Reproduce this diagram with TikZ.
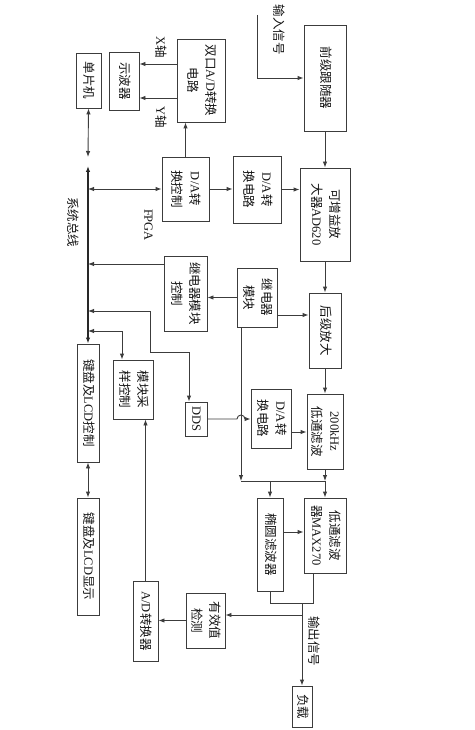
\documentclass[tikz,border=0pt]{standalone}
\usepackage{fontspec}
\usepackage{graphicx}
\setmainfont{Liberation Serif}
\newfontfamily\cjk{Noto Sans CJK SC}
\usetikzlibrary{arrows.meta}
\newcommand\la[1]{{\rmfamily #1}}
\newcommand\vt[1]{\rotatebox{-90}{\begin{tabular}{@{}c@{}}#1\end{tabular}}}
\renewcommand\arraystretch{1.2}
\definecolor{lc}{RGB}{60,60,60}
\definecolor{bc}{RGB}{40,40,40}
\definecolor{tc}{RGB}{20,20,20}
\begin{document}
\begin{tikzpicture}[x=1pt,y=-1pt,
  box/.style={draw=lc, line width=0.9pt, inner sep=0pt, text=tc, font=\cjk\fontsize{12.5}{15}\selectfont},
  lab/.style={inner sep=0pt, text=tc, font=\cjk\fontsize{12.5}{15}\selectfont},
  ln/.style={draw=lc, line width=0.9pt},
  arr/.style={ln, -{Latex[length=6pt,width=4.5pt]}},
  darr/.style={ln, {Latex[length=6pt,width=4.5pt]}-{Latex[length=6pt,width=4.5pt]}}]
\useasboundingbox (0,0) rectangle (474,730);
% boxes
\node[box, minimum width=48, minimum height=83] (shuangkou) at (201,80.5) {\vt{双口\la{A/D}转换\\电路}};
\node[box, minimum width=30, minimum height=58] (shiboqi) at (124,81) {\vt{示波器}};
\node[box, minimum width=25, minimum height=55] (danpianji) at (88.5,80.5) {\vt{单片机}};
\node[box, minimum width=47, minimum height=64] (dakz) at (185.5,189) {\vt{\la{D/A}转\\换控制}};
\node[box, minimum width=48, minimum height=67] (da1) at (257,189.5) {\vt{\la{D/A}转\\换电路}};
\node[box, minimum width=42, minimum height=106] (qianji) at (325,78) {\vt{前级跟随器}};
\node[box, minimum width=50, minimum height=93] (ad620) at (325,214.5) {\vt{可增益放\\大器\la{AD620}}};
\node[box, minimum width=43, minimum height=75] (jdqkz) at (185.5,293.5) {\vt{继电器模块\\控制}};
\node[box, minimum width=40, minimum height=59] (jdq) at (257,297.5) {\vt{继电器\\模块}};
\node[box, minimum width=32, minimum height=75] (houji) at (325,330.5) {\vt{后级放大}};
\node[box, minimum width=36, minimum height=75] (lpf200) at (325,431.5) {\vt{\la{200kHz}\\低通滤波}};
\node[box, minimum width=40, minimum height=59] (da2) at (271,418.5) {\vt{\la{D/A}转\\换电路}};
\node[box, minimum width=22, minimum height=34] (dds) at (196,419) {\vt{\la{DDS}}};
\node[box, minimum width=40, minimum height=59] (mkcy) at (133,389.5) {\vt{模块采\\样控制}};
\node[box, minimum width=22, minimum height=118] (kbctl) at (88,403) {\vt{键盘及\la{LCD}控制}};
\node[box, minimum width=22, minimum height=117] (kbdisp) at (88,556.5) {\vt{键盘及\la{LCD}显示}};
\node[box, minimum width=42, minimum height=75] (max270) at (325,535.5) {\vt{低通滤波\\器\la{MAX270}}};
\node[box, minimum width=26, minimum height=93] (tuoyuan) at (270,544.5) {\vt{椭圆滤波器}};
\node[box, minimum width=39, minimum height=55] (yxz) at (205.5,620.5) {\vt{有效值\\检测}};
\node[box, minimum width=25, minimum height=80] (adc) at (145.5,621) {\vt{\la{A/D}转换器}};
\node[box, minimum width=20, minimum height=41] (fuzai) at (302,706.5) {\vt{负载}};
% labels
\node[lab] (lin) at (278,30) {\vt{输入信号}};
\node[lab] (lx) at (160,47) {\vt{\la{X}轴}};
\node[lab] (ly) at (160,117) {\vt{\la{Y}轴}};
\node[lab] (lfpga) at (148,225) {\vt{\la{FPGA}}};
\node[lab] (lbus) at (72,222) {\vt{系统总线}};
\node[lab] (lout) at (313,641) {\vt{输出信号}};
% helper coordinates
\coordinate (in0) at (257,15);
\coordinate (yX) at (0,64);
\coordinate (yY) at (0,98);
\coordinate (bj) at (88,157);
\coordinate (bt) at (88,166);
\coordinate (y264) at (0,264);
\coordinate (y315) at (0,315);
\coordinate (y311) at (0,311);
\coordinate (y331) at (0,331);
\coordinate (b1) at (150,352);
\coordinate (x189) at (189,0);
\coordinate (b2) at (122,0);
\coordinate (x241) at (241,0);
\coordinate (y481) at (0,481);
\coordinate (y432) at (0,432);
\coordinate (y532) at (0,532);
\coordinate (x313) at (313,0);
\coordinate (x302) at (302,0);
\coordinate (y603) at (0,603);
\coordinate (y615) at (0,615);
% connectors
\draw[arr] (in0) |- (qianji.west);
\draw[arr] (qianji.south) -- (ad620.north);
\draw[arr] (da1.east) -- (da1.east -| ad620.west);
\draw[arr] (dakz.east) -- (dakz.east -| da1.west);
\draw[arr] (dakz.north) -- (dakz.north |- shuangkou.south);
\draw[arr] (shuangkou.west |- yX) -- (shiboqi.east |- yX);
\draw[arr] (shuangkou.west |- yY) -- (shiboqi.east |- yY);
\draw[darr] (danpianji.south) -- (bj);
\draw[draw=bc, line width=1.4pt, {Latex[length=6pt,width=4.5pt]}-{Latex[length=6pt,width=4.5pt]}] (bt) -- (kbctl.north);
\draw[darr] (dakz.west -| bt) -- (dakz.west);
\draw[arr] (jdqkz.west |- y264) -- (bt |- y264);
\draw[arr] (jdq.west) -- (jdq.west -| jdqkz.east);
\draw[arr] (jdq.east |- y315) -- (houji.west |- y315);
\draw[arr] (ad620.south) -- (houji.north);
\draw[arr] (houji.south) -- (lpf200.north);
\draw[darr] (bt |- y311) -| (b1) -| (dds.north -| x189);
\draw[darr] (bt |- y331) -| (mkcy.north -| b2);
\draw[arr] (dds.east) -- (237,419) arc[start angle=180, end angle=360, radius=4] -- (da2.west |- dds.east);
\draw[arr] (jdq.south -| x241) -- (x241 |- y481);
\draw[ln] (x241 |- y481) -- (lpf200.south |- y481);
\draw[arr] (lpf200.south) -- (lpf200.south |- y481);
\draw[arr] (lpf200.south |- y481) -- (max270.north);
\draw[arr] (tuoyuan.north |- y481) -- (tuoyuan.north);
\draw[arr] (da2.east |- y432) -- (lpf200.west |- y432);
\draw[arr] (adc.north) -- (adc.north |- mkcy.south);
\draw[darr] (kbctl.south) -- (kbdisp.north);
\draw[arr] (tuoyuan.east |- y532) -- (max270.west |- y532);
\draw[ln] (tuoyuan.south) |- (x313 |- y603) -- (x313 |- max270.south);
\draw[arr] (x302 |- y603) -- (fuzai.north);
\draw[arr] (x302 |- y615) -- (yxz.east |- y615);
\draw[arr] (yxz.west) -- (yxz.west -| adc.east);
\end{tikzpicture}
\end{document}
